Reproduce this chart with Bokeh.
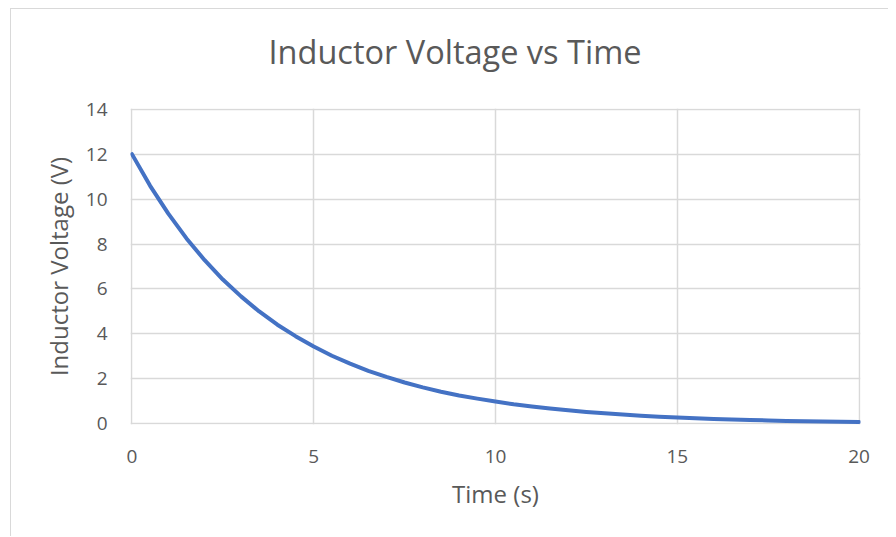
from bokeh.plotting import figure
from bokeh.models import Range1d, FixedTicker, ColumnDataSource
from bokeh.embed import file_html
from bokeh.resources import INLINE

# Data
time_s = [0, 0.5, 1, 1.5, 2, 2.5, 3, 3.5, 4, 4.5, 5, 5.5, 6, 6.5, 7, 7.5, 8, 8.5, 9, 9.5,
          10, 10.5, 11, 11.5, 12, 12.5, 13, 13.5, 14, 14.5, 15, 15.5, 16, 16.5, 17, 17.5,
          18, 18.5, 19, 19.5, 20]
voltage_v = [12.00, 10.59, 9.35, 8.25, 7.28, 6.42, 5.67, 5.00, 4.41, 3.90, 3.44, 3.03, 2.68,
             2.36, 2.09, 1.84, 1.62, 1.43, 1.26, 1.12, 0.99, 0.87, 0.77, 0.68, 0.60, 0.53,
             0.47, 0.41, 0.36, 0.32, 0.28, 0.25, 0.22, 0.19, 0.17, 0.15, 0.13, 0.12, 0.10,
             0.09, 0.08]
x_ticks = [0, 5, 10, 15, 20]
y_ticks = [0, 2, 4, 6, 8, 10, 12, 14]

title_text = "Inductor Voltage vs Time"
x_label = "Time (s)"
y_label = "Inductor Voltage (V)"

FONT = "Open Sans"
TEXT = "#595959"
GRID = "#d9d9d9"

p = figure(width=888, height=552, output_backend="svg", toolbar_location=None,
           x_range=Range1d(-0.04, 20.04), y_range=Range1d(-0.03, 14.03),
           min_border_left=130, min_border_right=28, min_border_top=124,
           min_border_bottom=112, title=title_text)
# outer chart-area border (left and top edges), drawn behind a transparent canvas border
p.styles = {
    "margin-top": "-16px",
    "background": ("linear-gradient(#d9d9d9, #d9d9d9) 10px 24px / 1px 100% no-repeat, "
                   "linear-gradient(#d9d9d9, #d9d9d9) 10px 24px / 100% 1px no-repeat, #ffffff"),
}
p.border_fill_color = None
p.background_fill_color = "white"
p.outline_line_color = None

p.title.text_font = FONT
p.title.text_font_size = "32.5px"
p.title.text_font_style = "normal"
p.title.text_color = TEXT
p.title.align = "left"
p.title.offset = 138
p.title.standoff = 70

src = ColumnDataSource(data=dict(t=time_s, v=voltage_v))
p.line("t", "v", source=src, line_color="#4472C4", line_width=4, line_cap="round",
       line_join="round")

for ax in (p.xaxis[0], p.yaxis[0]):
    ax.axis_line_color = None
    ax.major_tick_line_color = None
    ax.minor_tick_line_color = None
    ax.major_tick_in = 0
    ax.major_tick_out = 0
    ax.major_label_text_font = FONT
    ax.major_label_text_font_size = "19px"
    ax.major_label_text_color = TEXT
    ax.axis_label_text_font = FONT
    ax.axis_label_text_font_size = "24px"
    ax.axis_label_text_font_style = "normal"
    ax.axis_label_text_color = TEXT

p.xaxis.ticker = FixedTicker(ticks=x_ticks)
p.yaxis.ticker = FixedTicker(ticks=y_ticks)
p.xaxis.axis_label = x_label
p.yaxis.axis_label = y_label
p.xaxis.major_label_standoff = 25
p.yaxis.major_label_standoff = 23
p.xaxis.axis_label_standoff = 11
p.yaxis.axis_label_standoff = 8

p.xgrid[0].ticker = FixedTicker(ticks=x_ticks)
p.ygrid[0].ticker = FixedTicker(ticks=y_ticks)
for g in (p.xgrid[0], p.ygrid[0]):
    g.grid_line_color = GRID
    g.grid_line_width = 1.5

open("out.html", "w").write(file_html(p, INLINE))
